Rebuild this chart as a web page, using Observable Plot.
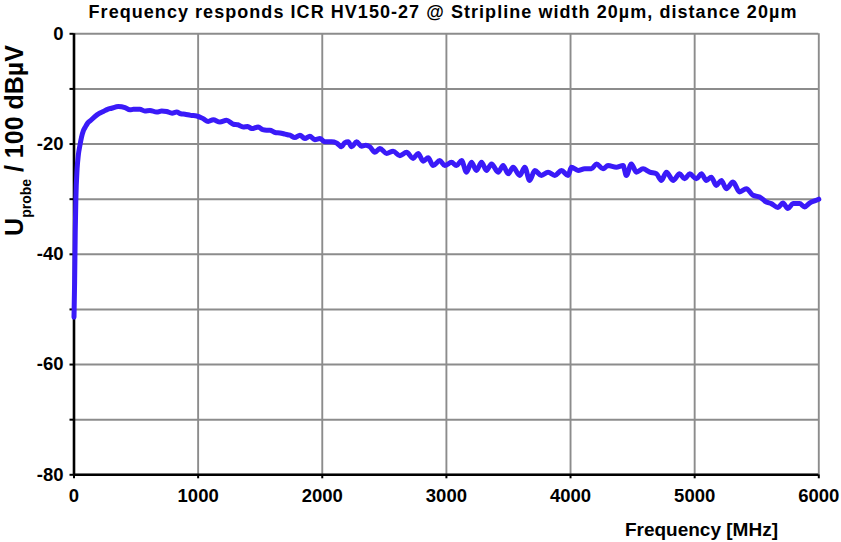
<!DOCTYPE html>
<html>
<head>
<meta charset="utf-8">
<script src="https://cdn.jsdelivr.net/npm/d3@7"></script>
<script src="https://cdn.jsdelivr.net/npm/@observablehq/plot@0.6"></script>
<style>
  html, body { margin: 0; padding: 0; background: #fff; }
  #wrap { width: 841px; height: 542px; position: relative; font-family: "Liberation Sans", Arial, sans-serif; }
  #title { width: 841px; height: 26px; box-sizing: border-box; padding-left: 45px; text-align: center;
           font-weight: bold; font-size: 18px; letter-spacing: 1.05px; line-height: 25px; color: #000; white-space: nowrap; }
</style>
</head>
<body>
<div id="wrap">
  <div id="title">Frequency responds ICR HV150-27 @ Stripline width 20µm, distance 20µm</div>
  <div id="chart"></div>
</div>
<script>
const freqMHz = [0,5,10,15,25,35,48,60,75,89,110,130,169,200,236,270,303,357,411,450,478,531,570,612,666,706,746,790,827,860,894,940,988,
  1041,1081,1122,1176,1229,1283,1320,1363,1400,1431,1484,1520,1551,1578,1620,1659,1700,1739,1779,1820,1860,1900,1940,1981,
  2021,2075,2115,2155,2180,2209,2236,2276,2316,2350,2383,2424,2464,2518,2571,2625,2679,2732,2772,2813,2853,2893,2947,2987,
  3041,3081,3122,3162,3202,3242,3283,3323,3363,3417,3457,3497,3537,3591,3631,3671,3712,3765,3819,3873,3927,3980,
  4007,4061,4114,4168,4209,4262,4302,4369,4423,4450,4490,4530,4584,4638,4692,4732,4772,4826,4879,4919,4960,
  5014,5054,5094,5134,5174,5215,5255,5309,5362,5416,5470,5523,5577,5617,5671,5711,5751,5792,5845,5886,5926,5980,6000];
const levelDb = [-51.4,-45,-36,-30,-24.5,-22,-20.2,-18.8,-17.6,-17.0,-16.2,-15.8,-15.0,-14.5,-14.1,-13.7,-13.5,-13.2,-13.4,-13.8,-13.7,-13.7,-14.0,-13.9,-14.2,-14.0,-14.1,-14.4,-14.2,-14.5,-14.6,-14.8,-14.9,
  -15.4,-15.9,-15.6,-16.0,-15.7,-16.4,-16.5,-16.9,-16.8,-17.2,-16.9,-17.4,-17.5,-17.5,-17.9,-18.0,-18.2,-18.4,-18.8,-18.4,-19.0,-18.6,-19.2,-19.0,
  -19.6,-19.6,-19.8,-20.5,-19.8,-19.6,-20.5,-19.6,-20.4,-20.2,-20.5,-21.5,-20.8,-21.7,-21.3,-22.1,-21.5,-22.6,-21.7,-23.1,-22.5,-23.9,-23.0,-23.9,
  -23.3,-23.9,-23.0,-25.1,-23.3,-24.8,-23.3,-24.8,-23.6,-25.1,-23.9,-25.4,-24.2,-25.7,-24.2,-26.6,-24.8,-25.7,-25.1,-25.7,-24.8,-25.7,
  -24.2,-24.8,-24.5,-24.5,-23.6,-24.5,-23.9,-24.2,-23.9,-25.7,-23.6,-25.1,-24.5,-25.1,-25.4,-26.6,-25.1,-26.6,-25.4,-26.3,-25.4,
  -26.3,-25.4,-26.6,-26.0,-27.5,-26.6,-28.1,-26.9,-28.7,-28.1,-29.3,-29.6,-30.5,-30.8,-31.5,-30.7,-31.7,-30.8,-30.8,-31.4,-30.7,-30.2,-30.0];

const xTicks = [0,1000,2000,3000,4000,5000,6000];
const yTicks = [0,-10,-20,-30,-40,-50,-60,-70,-80];
const yLabelled = [0,-20,-40,-60,-80];

const data = freqMHz.map((f, i) => ({f, v: levelDb[i]}));

const chart = Plot.plot({
  width: 841,
  height: 516,
  marginLeft: 73.5,
  marginRight: 22.7,
  marginTop: 7.3,
  marginBottom: 67.7,
  style: {fontFamily: "Liberation Sans, Arial, sans-serif", fontWeight: "bold", fontSize: "18.5px", color: "#000", overflow: "visible"},
  x: {domain: [0, 6000]},
  y: {domain: [-80, 0]},
  marks: [
    Plot.gridY(yTicks, {stroke: "#8c8c8c", strokeOpacity: 1, strokeWidth: 1.9}),
    Plot.gridX(xTicks, {stroke: "#8c8c8c", strokeOpacity: 1, strokeWidth: 1.9}),
    Plot.axisX(xTicks, {tickSize: 4, tickPadding: 10, strokeWidth: 2, stroke: "#000", tickFormat: d => String(d), label: null, fontWeight: "bold"}),
    Plot.axisY(yTicks, {tickSize: 4, tickPadding: 6.5, strokeWidth: 2, stroke: "#000", tickFormat: d => yLabelled.includes(d) ? String(d) : "", label: null, fontWeight: "bold"}),
    Plot.ruleX([0], {stroke: "#000", strokeWidth: 2.6}),
    Plot.ruleY([-80], {stroke: "#000", strokeWidth: 2.6}),
    Plot.line(data, {x: "f", y: "v", stroke: "#3a1af8", strokeWidth: 5, curve: "monotone-x", strokeLinejoin: "round", strokeLinecap: "round"})
  ]
});

const svg = d3.select(chart);
// y axis label with subscript
const yl = svg.append("text")
  .attr("transform", "translate(23,114.5) rotate(-90)")
  .attr("text-anchor", "middle")
  .attr("font-family", "Liberation Sans, Arial, sans-serif")
  .attr("font-weight", "bold")
  .attr("font-size", 25)
  .attr("fill", "#000");
yl.append("tspan").text("U");
yl.append("tspan").attr("font-size", 14).attr("dy", 8).text("probe");
yl.append("tspan").attr("dy", -8).text(" / 100 dBµV");
// x axis label
svg.append("text")
  .attr("x", 778).attr("y", 510)
  .attr("text-anchor", "end")
  .attr("font-family", "Liberation Sans, Arial, sans-serif")
  .attr("font-weight", "bold")
  .attr("font-size", 19)
  .attr("fill", "#000")
  .text("Frequency [MHz]");

document.getElementById("chart").appendChild(chart);
</script>
</body>
</html>
